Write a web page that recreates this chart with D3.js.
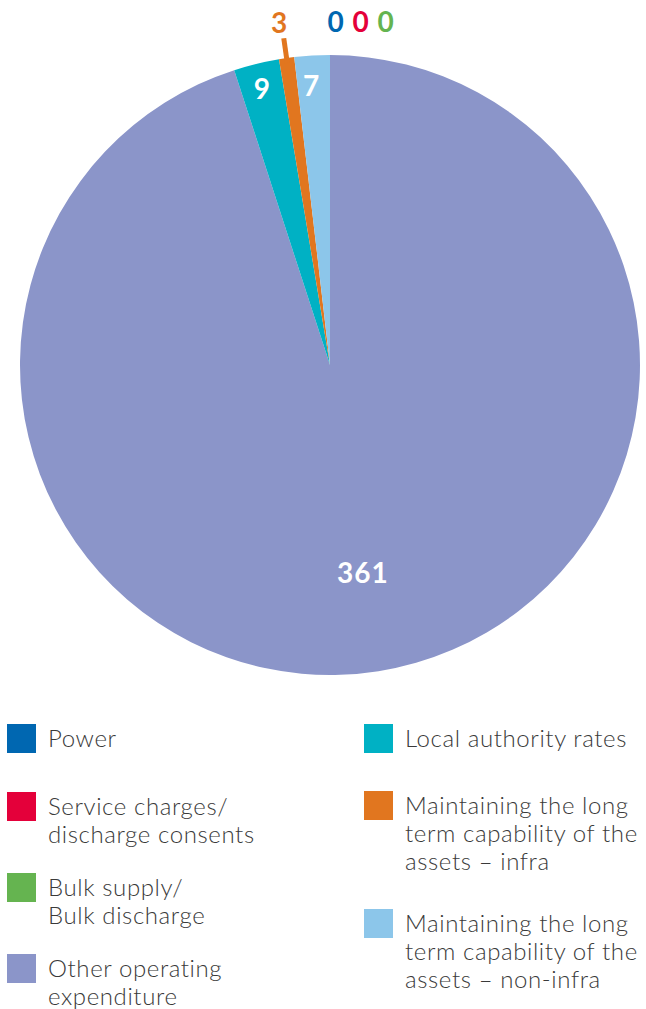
<!DOCTYPE html>
<html><head><meta charset="utf-8">
<script src="https://cdn.jsdelivr.net/npm/d3@7"></script>
<style>
html,body{margin:0;padding:0;background:#fff;}
svg{display:block;}
</style></head>
<body>
<script>
const categories = ["Power","Service charges/ discharge consents","Bulk supply/ Bulk discharge","Other operating expenditure","Local authority rates","Maintaining the long term capability of the assets – infra","Maintaining the long term capability of the assets – non-infra"];
const values = [0,0,0,361,9,3,7];
const colors = ["#0067b1","#e4003a","#65b450","#8b95c9","#00b1c4","#e1761f","#8cc6ea"];
const legendLines = [["Power"],["Service charges/","discharge consents"],["Bulk supply/","Bulk discharge"],["Other operating","expenditure"],["Local authority rates"],["Maintaining the long","term capability of the","assets – infra"],["Maintaining the long","term capability of the","assets – non-infra"]];

const W=646,H=1009;
const svg=d3.select("body").append("svg").attr("width",W).attr("height",H);
const cx=330, cy=365, R=310;
const data=categories.map((c,i)=>({name:c,value:values[i],color:colors[i],lines:legendLines[i]}));
const pie=d3.pie().sort(null).value(d=>d.value);
const arcs=pie(data);
const arc=d3.arc().innerRadius(0).outerRadius(R);
const g=svg.append("g").attr("transform",`translate(${cx},${cy})`);
g.selectAll("path").data(arcs.filter(a=>a.data.value>0)).join("path")
  .attr("d",arc).attr("fill",d=>d.data.color);

const numFont="Lato, 'Open Sans', sans-serif";
const numSize=28;
function labelAt(a,r){const m=(a.startAngle+a.endAngle)/2;return [Math.sin(m)*r,-Math.cos(m)*r];}
function numText(x,y,fill,v){
  g.append("text").attr("x",x).attr("y",y).attr("text-anchor","middle").attr("dominant-baseline","central")
   .attr("fill",fill).attr("font-family",numFont).attr("font-weight",700).attr("font-size",numSize)
   .attr("letter-spacing",1).text(v);
}
// inside labels
const inside={3:210,4:285,6:283};
arcs.forEach((a,i)=>{
  if(inside[i]!==undefined){
    const [x,y]=labelAt(a,inside[i]);
    numText(x-(i===6?2:0),y+(i===6?3:0),"#fff",a.data.value);
  }
});
// infra outside label with leader
{
  const a=arcs[5];
  const p1=labelAt(a,305), p2=labelAt(a,330), p3=labelAt(a,346);
  g.append("line").attr("x1",p1[0]).attr("y1",p1[1]).attr("x2",p2[0]).attr("y2",p2[1])
   .attr("stroke",a.data.color).attr("stroke-width",5);
  numText(p3[0]-2,p3[1],a.data.color,a.data.value);
}
// zero labels
arcs.filter(a=>a.data.value===0).forEach((a,k)=>{
  const [x,y]=labelAt(a,344);
  numText(x+6+k*25,y,a.data.color,a.data.value);
});

// legend
const colX=[7,364];
const tops=[724,792,873,954,724,791,909];
const lg=svg.append("g");
data.forEach((d,i)=>{
  const col=i<4?0:1;
  const x=colX[col], y=tops[i];
  lg.append("rect").attr("x",x).attr("y",y).attr("width",29).attr("height",29).attr("fill",d.color);
  const t=lg.append("text").attr("x",x+41).attr("y",y+23).attr("fill","#3a3a3a")
    .attr("font-family","Lato, 'Open Sans', sans-serif").attr("font-weight",300).attr("font-size",24)
    .attr("letter-spacing",0.6);
  d.lines.forEach((l,j)=>t.append("tspan").attr("x",x+41).attr("dy",j?28:0).text(l));
});
</script>
</body></html>
